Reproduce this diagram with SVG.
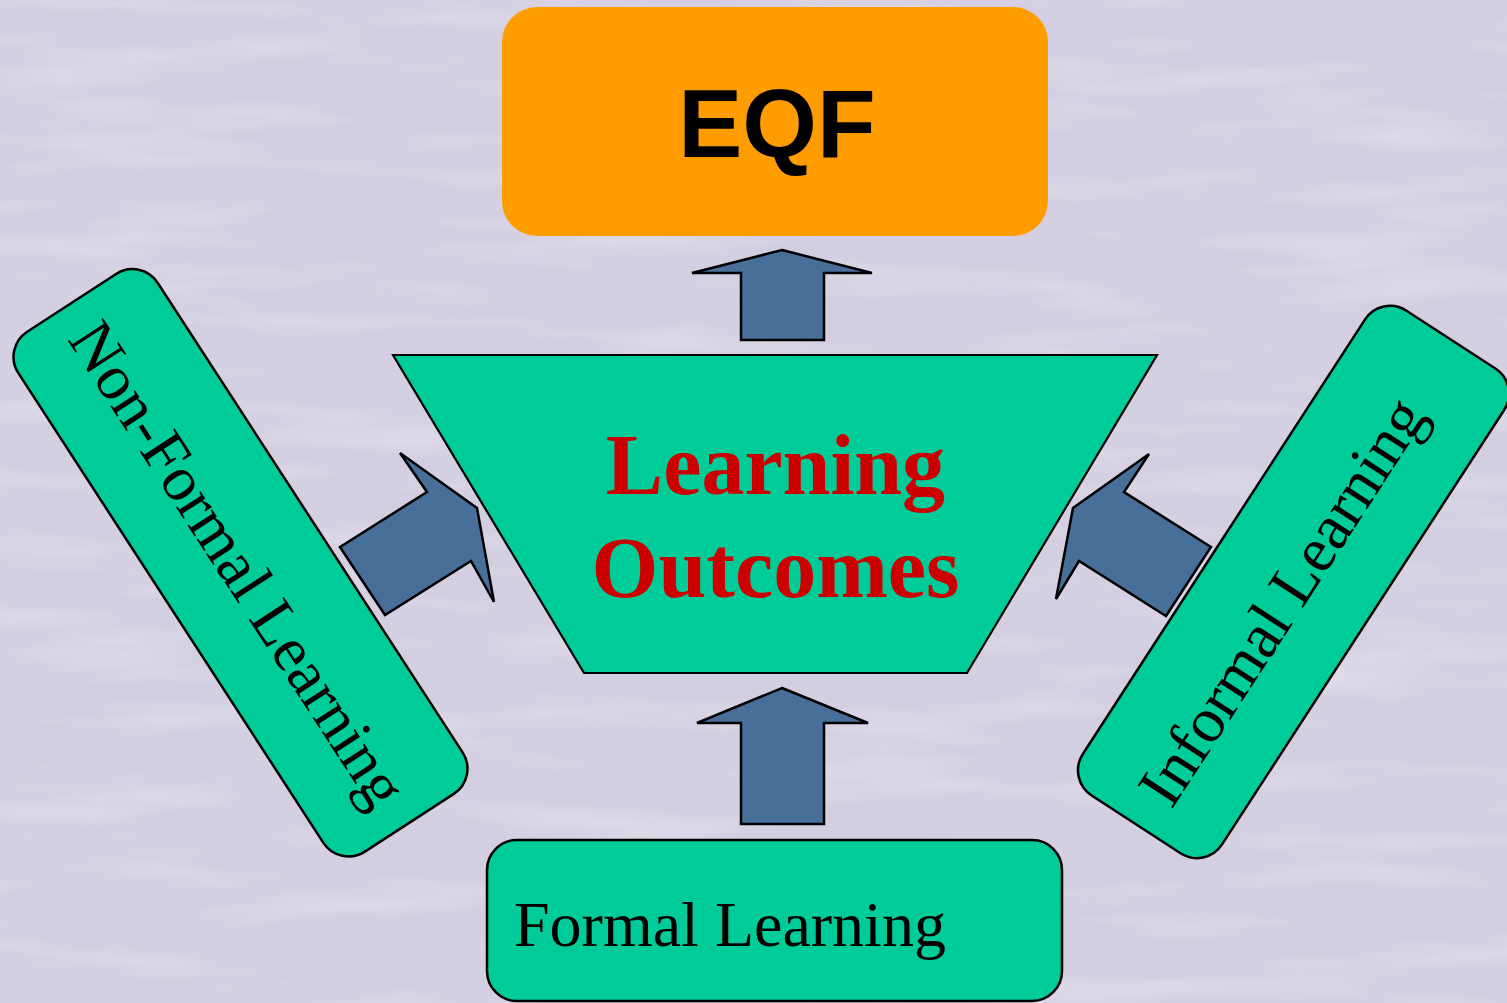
<svg xmlns="http://www.w3.org/2000/svg" width="1507" height="1003" viewBox="0 0 1507 1003">
  <defs>
    <style>
      .node { fill: #00cc99; stroke: #000; stroke-width: 2.5; }
      .arrow { fill: #476f99; stroke: #000; stroke-width: 2.5; stroke-linejoin: miter; }
      .serif { font-family: "Liberation Serif", "Times New Roman", serif; fill: #000; }
    </style>
    <filter id="water" x="0" y="0" width="100%" height="100%">
      <feTurbulence type="fractalNoise" baseFrequency="0.004 0.03" numOctaves="3" seed="7" result="n"/>
      <feColorMatrix in="n" type="matrix" values="0 0 0 0 1  0 0 0 0 1  0 0 0 0 1  1.4 0 0 0 -0.62"/>
    </filter>
  </defs>

  <g id="background">
    <rect x="0" y="0" width="1507" height="1003" fill="#d3cee0"/>
    <rect x="0" y="0" width="1507" height="1003" filter="url(#water)" opacity="0.45"/>
  </g>

  <g id="connectors">
    <polygon class="arrow" points="782,250 872,273 824,273 824,340 741,340 741,273 692,273"/>
    <polygon class="arrow" points="782,688 868,723 824,723 824,824 741,824 741,723 697,723"/>
    <polygon class="arrow" points="340,547 427,492 400,453 477,508 494,602 471,561 385,615"/>
    <polygon class="arrow" points="1211,547 1124,492 1149,454 1073,508 1056,599 1079,561 1166,616"/>
  </g>

  <g id="eqf">
    <rect x="502" y="7" width="546" height="229" rx="35" ry="35" fill="#ff9c00"/>
    <text x="777" y="157" text-anchor="middle" font-family="Liberation Sans, Arial, sans-serif" font-weight="bold" font-size="96" fill="#000">EQF</text>
  </g>

  <g id="learning-outcomes">
    <polygon points="393,355 1157,355 967,673 584,673" fill="#00cc99" stroke="#000" stroke-width="2.2"/>
    <text x="775.5" y="494" text-anchor="middle" font-family="Liberation Serif, Times New Roman, serif" font-weight="bold" font-size="86" fill="#cc0000">Learning</text>
    <text x="775.5" y="597" text-anchor="middle" font-family="Liberation Serif, Times New Roman, serif" font-weight="bold" font-size="86" fill="#cc0000">Outcomes</text>
  </g>

  <g id="non-formal-learning" transform="translate(240.5 562.8) rotate(57)">
    <rect class="node" x="-310" y="-83" width="620" height="166" rx="30" ry="30"/>
    <text class="serif" x="-282" y="24" font-size="64">Non-Formal Learning</text>
  </g>

  <g id="informal-learning" transform="translate(1293.5 582) rotate(-57)">
    <rect class="node" x="-289" y="-83" width="578" height="166" rx="30" ry="30"/>
    <text class="serif" x="-258" y="22" font-size="64">Informal Learning</text>
  </g>

  <g id="formal-learning">
    <rect class="node" x="487" y="840" width="575" height="161" rx="30" ry="30"/>
    <text class="serif" x="514" y="946" font-size="64">Formal Learning</text>
  </g>
</svg>
